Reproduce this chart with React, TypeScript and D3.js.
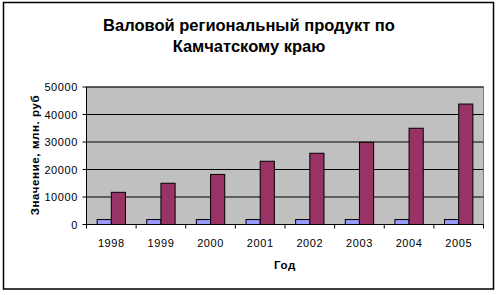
import React from "react";
import * as d3 from "d3";

const years = ["1998", "1999", "2000", "2001", "2002", "2003", "2004", "2005"];
const seriesA = [1800, 1800, 1800, 1800, 1800, 1800, 1800, 1800];
const seriesB = [11700, 15000, 18200, 23000, 25900, 29900, 35000, 43800];
const yTicks = [0, 10000, 20000, 30000, 40000, 50000];
const titleLines = ["Валовой региональный продукт по", "Камчатскому краю"];
const xTitle = "Год";
const yTitle = "Значение, млн. руб";

export default function App() {
  const W = 499, H = 295;
  const left = 86.5, right = 483.5, top = 87, bottom = 224.5;
  const x = d3.scaleBand().domain(years).range([left, right]).paddingInner(0).paddingOuter(0);
  const y = d3.scaleLinear().domain([0, 50000]).range([bottom, top]);
  const bw = x.bandwidth() / 3.5;
  const font = "Arial, 'Liberation Sans', sans-serif";
  return (
    <svg width={W} height={H} style={{ position: "absolute", left: 0, top: 0 }}>
      <rect x={0} y={0} width={W} height={H} fill="#fff" />
      <rect x={3.5} y={2.5} width={490} height={286.5} fill="#fff" stroke="#000" strokeWidth={1.5} />
      {titleLines.map((t, i) => (
        <text key={i} x={249} y={31 + i * 21} textAnchor="middle" fontFamily={font} fontWeight="bold" fontSize={16.5} fill="#000">{t}</text>
      ))}
      <rect x={left} y={top} width={right - left} height={bottom - top} fill="#C0C0C0" stroke="#808080" strokeWidth={1} />
      {yTicks.slice(1).map((t) => (
        <line key={t} x1={left} x2={right} y1={y(t)} y2={y(t)} stroke="#000" strokeWidth={1} />
      ))}
      {years.map((yr, i) => {
        const x0 = x(yr)! + bw * 0.75;
        return (
          <g key={yr}>
            <rect x={x0} y={y(seriesA[i])} width={bw} height={bottom - y(seriesA[i])} fill="#9999FF" stroke="#000" strokeWidth={1} />
            <rect x={x0 + bw} y={y(seriesB[i])} width={bw} height={bottom - y(seriesB[i])} fill="#993366" stroke="#000" strokeWidth={1} />
          </g>
        );
      })}
      <line x1={left} x2={left} y1={top} y2={bottom} stroke="#000" strokeWidth={1} />
      <line x1={left} x2={right} y1={bottom} y2={bottom} stroke="#000" strokeWidth={1} />
      {yTicks.map((t) => (
        <g key={t}>
          <line x1={left - 4} x2={left} y1={y(t)} y2={y(t)} stroke="#000" />
          <text x={78} y={y(t) + 4} textAnchor="end" fontFamily={font} fontSize={11} letterSpacing={0.6} fill="#000">{t}</text>
        </g>
      ))}
      {years.concat(["end"]).map((yr, i) => {
        const xx = left + i * x.bandwidth();
        return <line key={yr} x1={xx} x2={xx} y1={bottom} y2={bottom + 4} stroke="#000" />;
      })}
      {years.map((yr) => (
        <text key={yr} x={x(yr)! + x.bandwidth() / 2} y={247} textAnchor="middle" fontFamily={font} fontSize={11} letterSpacing={0.6} fill="#000">{yr}</text>
      ))}
      <text x={285} y={269} textAnchor="middle" fontFamily={font} fontWeight="bold" fontSize={11.5} letterSpacing={0.6} fill="#000">{xTitle}</text>
      <text transform={`translate(38.5,155) rotate(-90)`} textAnchor="middle" fontFamily={font} fontWeight="bold" fontSize={11.5} letterSpacing={0.6} fill="#000">{yTitle}</text>
    </svg>
  );
}
